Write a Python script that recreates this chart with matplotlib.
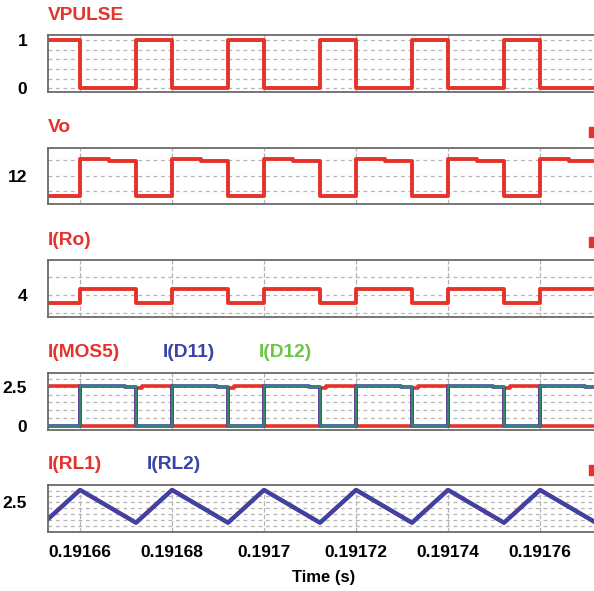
import matplotlib
matplotlib.use("Agg")
import matplotlib.pyplot as plt
import numpy as np
from matplotlib.patches import Rectangle

# ---- switching edges (s) ----
fall_times = [0.19166, 0.19168, 0.19170, 0.19172, 0.19174, 0.19176]
rise_times = [0.19165217, 0.19167217, 0.19169217, 0.19171217,
              0.19173217, 0.19175217, 0.19177217]
t_start, t_end = 0.19165304, 0.19177304

# ---- waveform levels ----
vpulse_high, vpulse_low = 1.0, 0.0
vo_high = [12.53, 12.48]          # output voltage while switch is off (before / after sag)
vo_sag_delay = 6.3e-6
vo_low = 11.345
iro_high, iro_low = 4.16, 3.77
imos_on = [2.42, 2.53]            # MOSFET current just after turn-on / later
imos_step_delay = 1.24e-6
imos_off = 0.0
id_on = [2.56, 2.46]              # diode current plateau
id_step_delay = 9.8e-6
id_off = 0.0
irl_peak, irl_valley = 2.71, 2.15

x_ticks = [0.19166, 0.19168, 0.19170, 0.19172, 0.19174, 0.19176]
x_tick_labels = ["0.19166", "0.19168", "0.1917", "0.19172", "0.19174", "0.19176"]

RED = "#e5322b"
BLUE = "#3a43a6"
GREEN = "#2f9e52"
GREEN_TXT = "#6cc644"
GRID = "#b4b4b4"
SPINE = "#6a6a6a"

TITLE_FONT = ["Liberation Sans", "DejaVu Sans"]
TICK_FONT = ["Liberation Sans", "DejaVu Sans"]


def step_trace(on_times, off_times, on_segments, off_level, start_level):
    """Build a piecewise-constant trace. on_segments: list of (delay, level)."""
    ev = []
    for t in on_times:
        for d, lv in on_segments:
            ev.append((t + d, lv))
    for t in off_times:
        ev.append((t, off_level))
    ev.sort()
    ts = [t_start]
    ys = [start_level]
    for t, lv in ev:
        if t_start < t < t_end:
            ts.append(t)
            ys.append(lv)
    ts.append(t_end)
    ys.append(ys[-1])
    return np.array(ts), np.array(ys)


W, H = 594, 591
fig = plt.figure(figsize=(W / 100, H / 100), dpi=100)
fig.patch.set_facecolor("white")

AX_L, AX_R = 48, 600


def make_ax(top, bottom):
    return fig.add_axes([AX_L / W, 1 - bottom / H, (AX_R - AX_L) / W, (bottom - top) / H])


def style_ax(ax, ylim, grid_y, tick_vals, tick_txt, vgrid_ls="--", show_x=False):
    ax.set_xlim(t_start, t_end)
    ax.set_ylim(*ylim)
    for g in grid_y:
        ax.axhline(g, color=GRID, lw=0.9, ls=(0, (3, 3)), zorder=0)
    for x in x_ticks:
        ax.axvline(x, color=GRID, lw=0.9, ls=vgrid_ls, zorder=0)
    ax.set_yticks(tick_vals)
    ax.set_yticklabels(tick_txt, fontfamily=TICK_FONT, fontweight="bold", fontsize=12.5)
    ax.tick_params(axis="y", length=0, pad=15)
    ax.set_xticks(x_ticks)
    if show_x:
        ax.set_xticklabels(x_tick_labels, fontfamily=TICK_FONT, fontweight="bold", fontsize=12.5)
        ax.tick_params(axis="x", length=0, pad=10)
    else:
        ax.set_xticklabels([])
        ax.tick_params(axis="x", length=0)
    for s in ax.spines.values():
        s.set_color(SPINE)
        s.set_linewidth(1.3)


def title(x, y, s, color):
    fig.text(x / W, 1 - y / H, s, color=color, fontfamily=TITLE_FONT,
             fontweight="bold", fontsize=13.8, ha="left", va="baseline")


# ---- VPULSE ----
ax1 = make_ax(35, 91.7)
style_ax(ax1, (-0.07, 1.10), [0, 0.2, 0.4, 0.6, 0.8, 1.0], [0, 1], ["0", "1"], vgrid_ls="-")
t, y = step_trace(rise_times, fall_times, [(0, vpulse_high)], vpulse_low, vpulse_high)
ax1.step(t, y, where="post", color=RED, lw=2.8)
title(47.7, 20, "VPULSE", RED)

# ---- Vo ----
ax2 = make_ax(147.7, 204.3)
style_ax(ax2, (11.08, 12.90), [11.5, 12.0, 12.5], [12], ["12"])
t, y = step_trace(fall_times, rise_times, [(0, vo_high[0]), (vo_sag_delay, vo_high[1])],
                  vo_low, vo_low)
ax2.step(t, y, where="post", color=RED, lw=2.8)
title(47.7, 131.7, "Vo", RED)

# ---- I(Ro) ----
ax3 = make_ax(260, 316.7)
style_ax(ax3, (3.40, 4.97), [3.5, 4.0, 4.5], [4], ["4"])
t, y = step_trace(fall_times, rise_times, [(0, iro_high)], iro_low, iro_low)
ax3.step(t, y, where="post", color=RED, lw=2.8)
title(47.7, 245, "I(Ro)", RED)

# ---- I(MOS5), I(D11), I(D12) ----
ax4 = make_ax(372.5, 429.5)
style_ax(ax4, (-0.24, 3.42), [0, 0.5, 1.0, 1.5, 2.0, 2.5, 3.0], [0, 2.5], ["0", "2.5"])
t, y = step_trace(rise_times, fall_times, [(0, imos_on[0]), (imos_step_delay, imos_on[1])],
                  imos_off, imos_on[1])
ax4.step(t, y, where="post", color=RED, lw=2.6)
t, y = step_trace(fall_times, rise_times, [(0, id_on[0]), (id_step_delay, id_on[1])],
                  id_off, id_off)
ax4.step(t, y, where="post", color=BLUE, lw=2.6)
ax4.step(t, y, where="post", color=GREEN, lw=1.1)
title(47.7, 357.3, "I(MOS5)", RED)
title(162.3, 357.3, "I(D11)", BLUE)
title(259, 357.3, "I(D12)", GREEN_TXT)

# ---- I(RL1), I(RL2) ----
ax5 = make_ax(484.7, 531.5)
style_ax(ax5, (2.0, 2.8), [2.1, 2.2, 2.3, 2.4, 2.5, 2.6, 2.7], [2.5], ["2.5"], show_x=True)
tri_t = np.array(sorted(fall_times + rise_times))
tri_y = np.array([irl_peak if tt in fall_times else irl_valley for tt in tri_t])
ax5.plot(tri_t, tri_y, color=RED, lw=3.0)
ax5.plot(tri_t, tri_y, color=BLUE, lw=3.0)
title(47.7, 469.3, "I(RL1)", RED)
title(146.7, 469.3, "I(RL2)", BLUE)

fig.text(324 / W, 1 - 582 / H, "Time (s)", fontfamily=TICK_FONT, fontweight="bold",
         fontsize=12, ha="center", va="baseline")

# legend markers at the right edge
for top in (127, 237.5, 465):
    fig.patches.append(Rectangle((589 / W, 1 - (top + 9.5) / H), 10 / W, 9.5 / H,
                                 transform=fig.transFigure, color=RED, zorder=5))

fig.savefig("out.png", dpi=100, facecolor="white")
